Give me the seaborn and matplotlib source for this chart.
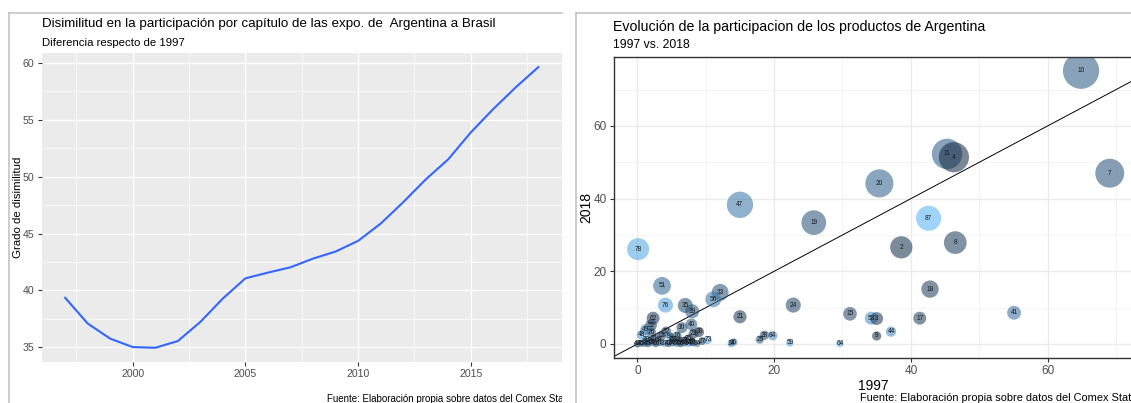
import numpy as np
import pandas as pd
import matplotlib.pyplot as plt
from matplotlib.colors import LinearSegmentedColormap
from matplotlib.lines import Line2D
import seaborn as sns

plt.rcParams['font.family'] = ['Liberation Sans', 'DejaVu Sans']

# ---- left panel: dissimilarity index by year
anios = list(range(1997, 2019))
disimilitud = [39.36, 37.1, 35.77, 35.03, 34.97, 35.56, 37.24, 39.3, 41.07, 41.57, 42.04,
               42.8, 43.42, 44.36, 45.87, 47.75, 49.75, 51.52, 53.88, 55.94, 57.85, 59.62]

# ---- right panel: share by chapter, 1997 vs 2018
capitulos = ['10', '7', '11', '4', '20', '47', '19', '87', '8', '2', '78', '18', '51', '76',
             '33', '56', '24', '35', '39', '21', '15', '41', '53', '3', '17', '44', '9', '40',
             '59', '64', '14', '96', '29', '28', '84', '73', '38', '62', '52', '30', '32', '48',
             '70', '94', '16', '23', '25', '27', '43', '46', '50', '45', '65', '66', '1', '37',
             '42', '36', '57', '58', '60', '54', '55', '34', '31', '68', '63', '85', '71', '90',
             '5', '6', '12', '13', '26', '49']
part_1997 = [64.9, 69.1, 45.3, 46.3, 35.4, 15.0, 25.8, 42.6, 46.5, 38.6, 0.1, 42.8, 3.6, 4.1,
             12.1, 11.1, 22.8, 7.0, 8.0, 15.0, 31.1, 55.1, 34.2, 35.0, 41.3, 37.1, 35.0, 7.9,
             22.3, 29.6, 13.7, 14.1, 17.9, 18.6, 19.8, 10.3, 9.0, 2.3, 2.0, 6.5, 4.2, 0.6,
             1.3, 4.8, 5.8, 8.2, 7.5, 9.5, 0.0, 0.4, 0.9, 1.5, 2.1, 2.7, 3.3, 3.9,
             4.5, 5.1, 5.7, 6.3, 6.9, 7.5, 8.1, 8.7, 2.5, 3.0, 5.2, 6.2, 7.0, 8.0,
             1.0, 1.9, 3.5, 6.0, 2.0, 1.2]
part_2018 = [75.2, 47.0, 52.3, 51.4, 44.2, 38.3, 33.4, 34.6, 27.9, 26.6, 26.1, 15.1, 16.0, 10.7,
             14.2, 12.3, 10.7, 10.6, 9.0, 7.5, 8.3, 8.6, 7.1, 7.0, 7.1, 3.4, 2.2, 5.4,
             0.3, 0.1, 0.1, 0.5, 1.2, 2.4, 2.3, 1.1, 3.3, 7.1, 5.2, 4.5, 3.4, 2.5,
             1.1, 2.0, 2.2, 2.8, 1.5, 0.8, 0.0, 0.1, 0.2, 0.1, 0.3, 0.1, 0.4, 0.2,
             0.1, 0.3, 0.2, 0.1, 0.3, 0.2, 0.4, 0.1, 1.5, 0.9, 1.2, 0.9, 1.0, 0.6,
             0.6, 0.8, 2.2, 0.4, 3.2, 4.0]
intensidad = [0.35, 0.3, 0.35, 0.0, 0.4, 0.55, 0.3, 1.0, 0.15, 0.05, 0.9, 0.15, 0.45, 0.85,
              0.3, 0.55, 0.2, 0.25, 0.3, 0.1, 0.2, 0.5, 0.75, 0.1, 0.15, 0.7, 0.05, 0.35,
              0.9, 0.9, 0.7, 0.6, 0.4, 0.3, 0.7, 0.85, 0.0, 0.1, 0.15, 0.3, 0.2, 0.8,
              0.75, 0.8, 0.3, 0.1, 0.4, 0.2, 0.1, 0.6, 0.2, 0.0, 0.7, 0.1, 0.3, 0.8,
              0.1, 0.2, 0.6, 0.0, 0.3, 0.7, 0.1, 0.5, 0.2, 0.8, 0.1, 0.6, 0.0, 0.4,
              0.9, 0.2, 0.1, 0.7, 0.3, 0.6]

df_linea = pd.DataFrame({'anio': anios, 'disimilitud': disimilitud})
df_burbujas = pd.DataFrame({'capitulo': capitulos, 'p1997': part_1997,
                            'p2018': part_2018, 'intensidad': intensidad})

W, H = 1131, 403
fig = plt.figure(figsize=(W / 100, H / 100), dpi=100)


def box(x0, y0, x1, y1):
    # pixel box (top-left origin) -> figure fraction
    return [x0 / W, 1 - y1 / H, (x1 - x0) / W, (y1 - y0) / H]


def ftext(x, y, s, **kw):
    return fig.text(x / W, 1 - y / H, s, **kw)


# frames of the two screenshots
for xa, xb in [(9, 562), (576, 1131)]:
    fig.add_artist(Line2D([xa / W, xb / W], [1 - 13 / H] * 2, color='#c4c4c4', lw=1.2))
    fig.add_artist(Line2D([xa / W] * 2, [1 - 13 / H, 0], color='#c4c4c4', lw=1.2))

# ---------------- left: ggplot grey theme
ax1 = fig.add_axes(box(41.5, 53, 562, 362))
ax1.set_facecolor('#EBEBEB')
for s in ax1.spines.values():
    s.set_visible(False)
ax1.set_xlim(1995.95, 2019.05)
ax1.set_ylim(33.72, 60.86)
ax1.set_xticks([2000, 2005, 2010, 2015])
ax1.set_yticks([35, 40, 45, 50, 55, 60])
ax1.set_xticks([1997.5, 2002.5, 2007.5, 2012.5, 2017.5], minor=True)
ax1.set_yticks([37.5, 42.5, 47.5, 52.5, 57.5], minor=True)
ax1.grid(True, which='major', color='white', lw=1.0)
ax1.grid(True, which='minor', color='white', lw=0.5)
ax1.set_axisbelow(True)
ax1.tick_params(which='major', length=3, width=0.8, color='#333333',
                labelsize=7.6, labelcolor='#4D4D4D', pad=2)
ax1.tick_params(which='minor', length=0)
sns.lineplot(data=df_linea, x='anio', y='disimilitud', ax=ax1, color='#3366FF', lw=1.5)
ax1.set_xlabel('')
ax1.set_ylabel('')
ftext(18, 207, 'Grado de disimilitud', rotation=90, ha='center', va='center', fontsize=8.2)
ftext(42, 24, 'Disimilitud en la participación por capítulo de las expo. de  Argentina a Brasil',
      fontsize=9.6, va='center')
ftext(42, 43, 'Diferencia respecto de 1997', fontsize=8.2, va='center')

# caption clipped at the screenshot edge
axc = fig.add_axes(box(9, 13, 562, 403))
axc.axis('off')
cap = fig.text(327 / W, 1 - 399 / H, 'Fuente: Elaboración propia sobre datos del Comex Stat',
               ha='left', va='center', fontsize=7.0)
cap.set_clip_box(axc.bbox)
cap.set_clip_on(True)

# ---------------- right: ggplot bw theme
ax2 = fig.add_axes(box(613.5, 57.3, 1133, 358.3))
ax2.set_facecolor('white')
for s in ax2.spines.values():
    s.set_color('#333333')
    s.set_linewidth(1.0)
ax2.set_xlim(-3.5, 72.5)
ax2.set_ylim(-3.94, 78.9)
ax2.set_xticks([0, 20, 40, 60])
ax2.set_yticks([0, 20, 40, 60])
ax2.set_xticks([10, 30, 50, 70], minor=True)
ax2.set_yticks([10, 30, 50, 70], minor=True)
ax2.grid(True, which='major', color='#EBEBEB', lw=1.0)
ax2.grid(True, which='minor', color='#F2F2F2', lw=0.6)
ax2.set_axisbelow(True)
ax2.tick_params(which='major', length=3, width=0.8, color='#333333',
                labelsize=8.5, labelcolor='#4D4D4D', pad=2)
ax2.tick_params(which='minor', length=0)

ax2.axline((0, 0), slope=1, color='black', lw=0.7, zorder=1)
cmap = LinearSegmentedColormap.from_list('gg', ['#132B43', '#56B1F7'])
sns.scatterplot(data=df_burbujas, x='p1997', y='p2018', hue='intensidad', palette=cmap,
                hue_norm=(0, 1), size='p2018', sizes=(25, 680), size_norm=(0, 75.2),
                alpha=0.56, linewidth=0, legend=False, ax=ax2, zorder=2)
for _, r in df_burbujas.iterrows():
    ax2.text(r['p1997'], r['p2018'], r['capitulo'], fontsize=4.7, color='#1a1a1a',
             ha='center', va='center', zorder=3)
ax2.set_xlabel('1997', fontsize=10, labelpad=1)
ax2.set_ylabel('2018', fontsize=10, labelpad=0)

ftext(613, 27, 'Evolución de la participacion de los productos de Argentina',
      fontsize=10.2, va='center')
ftext(613, 45, '1997 vs. 2018', fontsize=8.7, va='center')
ftext(1131, 398, 'Fuente: Elaboración propia sobre datos del Comex Stat',
      fontsize=7.9, ha='right', va='center')

fig.savefig('out.png', dpi=100)
